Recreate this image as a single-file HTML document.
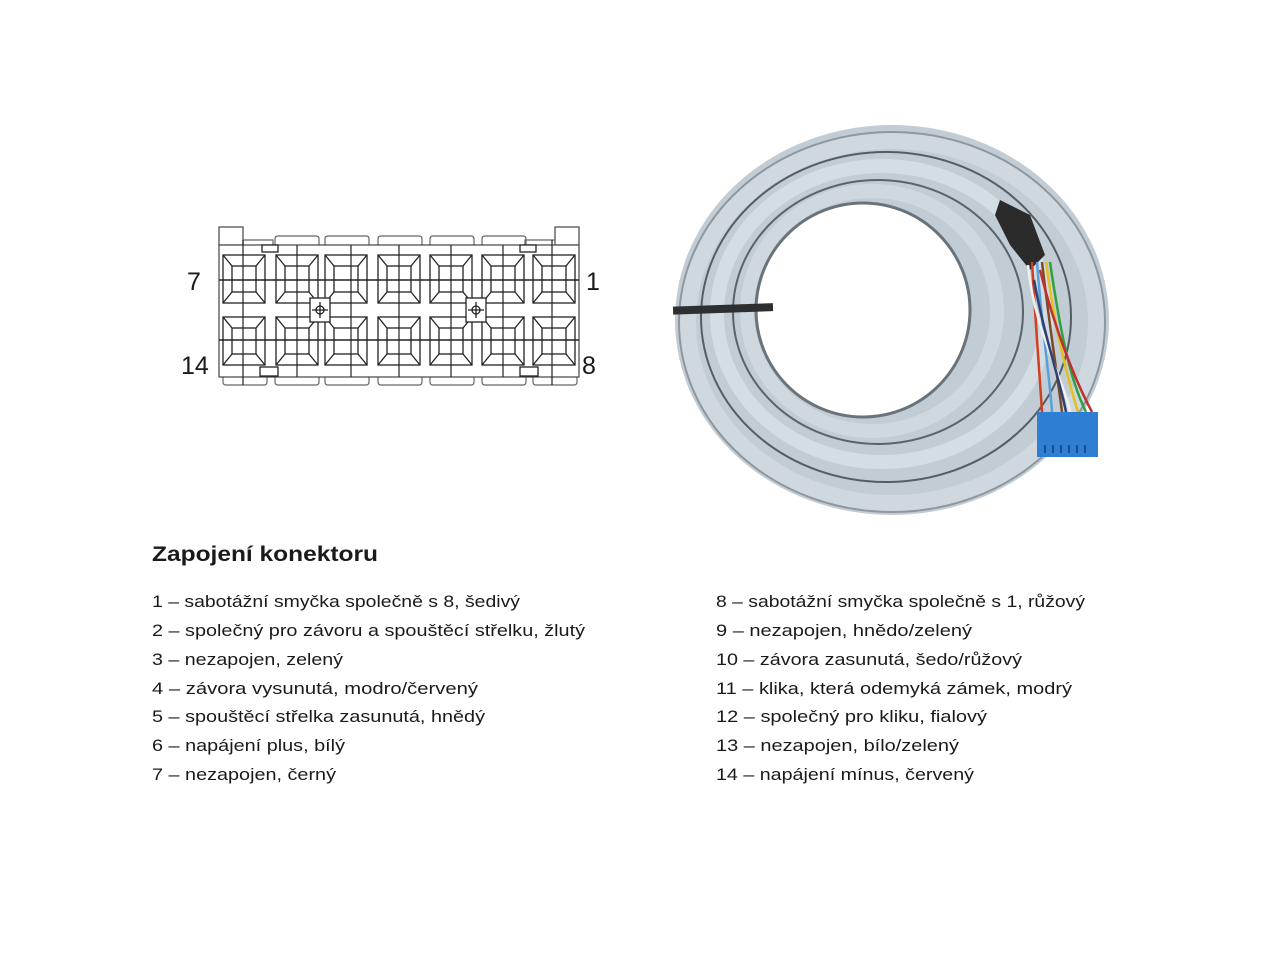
<!DOCTYPE html>
<html><head><meta charset="utf-8"><style>
html,body{margin:0;padding:0;background:#fff;}
svg{display:block;}
text{font-family:"Liberation Sans",sans-serif;fill:#1a1a1a;}
</style></head><body>
<svg width="1280" height="960" viewBox="0 0 1280 960" xmlns="http://www.w3.org/2000/svg">
<defs>
  <g id="cell">
    <rect x="0" y="0" width="42" height="48"/><rect x="9" y="11" width="24" height="26"/>
    <path d="M0 0 L9 11 M42 0 L33 11 M0 48 L9 37 M42 48 L33 37"/>
  </g>
</defs>
<g stroke="#444" fill="none" stroke-width="1.2">
  <rect x="219" y="227" width="24" height="18" fill="#fff"/>
  <rect x="555" y="227" width="24" height="18" fill="#fff"/>
  <g stroke="#666">
    <path d="M275 245 v-6 q0-3 3-3 h38 q3 0 3 3 v6"/>
    <path d="M325 245 v-6 q0-3 3-3 h38 q3 0 3 3 v6"/>
    <path d="M378 245 v-6 q0-3 3-3 h38 q3 0 3 3 v6"/>
    <path d="M430 245 v-6 q0-3 3-3 h38 q3 0 3 3 v6"/>
    <path d="M482 245 v-6 q0-3 3-3 h38 q3 0 3 3 v6"/>
    <path d="M243 245 v-5 h30 v5"/><path d="M525 245 v-5 h30 v5"/>
    <path d="M223 377 v5 q0 3 3 3 h38 q3 0 3-3 v-5"/>
    <path d="M275 377 v5 q0 3 3 3 h38 q3 0 3-3 v-5"/>
    <path d="M325 377 v5 q0 3 3 3 h38 q3 0 3-3 v-5"/>
    <path d="M378 377 v5 q0 3 3 3 h38 q3 0 3-3 v-5"/>
    <path d="M430 377 v5 q0 3 3 3 h38 q3 0 3-3 v-5"/>
    <path d="M482 377 v5 q0 3 3 3 h38 q3 0 3-3 v-5"/>
    <path d="M533 377 v5 q0 3 3 3 h38 q3 0 3-3 v-5"/>
  </g>
  <rect x="219" y="245" width="360" height="132" fill="#fff"/>
</g>
<g stroke="#222" fill="none" stroke-width="1.3">
  <use href="#cell" x="223" y="255"/><use href="#cell" x="276" y="255"/><use href="#cell" x="325" y="255"/>
  <use href="#cell" x="378" y="255"/><use href="#cell" x="430" y="255"/><use href="#cell" x="482" y="255"/>
  <use href="#cell" x="533" y="255"/>
  <use href="#cell" x="223" y="317"/><use href="#cell" x="276" y="317"/><use href="#cell" x="325" y="317"/>
  <use href="#cell" x="378" y="317"/><use href="#cell" x="430" y="317"/><use href="#cell" x="482" y="317"/>
  <use href="#cell" x="533" y="317"/>
  <path d="M219 280 H579 M219 340 H579" stroke-width="1.5"/>
  <path d="M243 240 V385 M297 245 V377 M351 245 V377 M399 245 V377 M451 245 V377 M503 245 V377 M552 240 V385" stroke-width="1.2"/>
  <rect x="310" y="298" width="20" height="24" fill="#fff"/>
  <rect x="466" y="298" width="20" height="24" fill="#fff"/>
  <circle cx="320" cy="310" r="4"/><path d="M320 302 V318 M312 310 H328"/>
  <circle cx="476" cy="310" r="4"/><path d="M476 302 V318 M468 310 H484"/>
  <rect x="262" y="245" width="16" height="7" fill="#fff"/>
  <rect x="520" y="245" width="16" height="7" fill="#fff"/>
  <rect x="260" y="367" width="18" height="9" fill="#fff"/>
  <rect x="520" y="367" width="18" height="9" fill="#fff"/>
</g>
<text x="187" y="290" font-size="25">7</text>
<text x="586" y="290" font-size="25">1</text>
<text x="181" y="374" font-size="25">14</text>
<text x="582" y="374" font-size="25">8</text>

<!-- cable coil -->
<path fill-rule="evenodd" fill="#c2ccd4" d="M675 320 a217 195 0 1 0 434 0 a217 195 0 1 0 -434 0 Z M757 310 a106 106 0 1 0 212 0 a106 106 0 1 0 -212 0 Z"/>
<g fill="none">
  <ellipse cx="892" cy="322" rx="205" ry="182" stroke="#cfd8df" stroke-width="18"/>
  <ellipse cx="892" cy="322" rx="213" ry="190" stroke="#8e979e" stroke-width="2"/>
  <ellipse cx="886" cy="317" rx="185" ry="165" stroke="#555d64" stroke-width="2"/>
  <ellipse cx="882" cy="314" rx="165" ry="148" stroke="#d4dde3" stroke-width="14"/>
  <ellipse cx="878" cy="312" rx="145" ry="132" stroke="#5a636b" stroke-width="2"/>
  <ellipse cx="872" cy="311" rx="125" ry="120" stroke="#cfd8de" stroke-width="14"/>
  <ellipse cx="863" cy="310" rx="107" ry="107" stroke="#6a737a" stroke-width="3"/>
</g>
<path d="M1000 200 L1030 215 L1045 255 L1030 270 L1010 245 L995 215 Z" fill="#2b2b2b"/>
<rect x="673" y="305" width="100" height="8" fill="#2d2f31" transform="rotate(-2 720 309)"/>
<g stroke-width="2.5" fill="none">
  <path d="M1032 262 C1036 330 1040 380 1042 412" stroke="#d04020"/>
  <path d="M1037 262 C1042 330 1050 380 1052 412" stroke="#5aa0d8"/>
  <path d="M1042 262 C1050 330 1058 380 1062 412" stroke="#7a4a2a"/>
  <path d="M1028 265 C1034 330 1064 380 1070 412" stroke="#f0f0f0"/>
  <path d="M1046 262 C1055 330 1068 380 1078 412" stroke="#e2c020"/>
  <path d="M1050 262 C1060 330 1070 380 1086 412" stroke="#30a040"/>
  <path d="M1040 270 C1055 330 1075 380 1092 412" stroke="#c03030"/>
  <path d="M1034 280 C1045 340 1060 380 1066 412" stroke="#304070"/>
</g>
<rect x="1037" y="412" width="61" height="45" fill="#2e7fd4"/>
<g stroke="#1b4f8f" stroke-width="2"><path d="M1045 445 v8 M1053 445 v8 M1061 445 v8 M1069 445 v8 M1077 445 v8 M1085 445 v8"/></g>

<text x="152" y="561" font-size="21" font-weight="bold" textLength="226" lengthAdjust="spacingAndGlyphs">Zapojení konektoru</text>
<g font-size="17">
<text x="152" y="607" textLength="368" lengthAdjust="spacingAndGlyphs">1 – sabotážní smyčka společně s 8, šedivý</text>
<text x="152" y="636" textLength="433" lengthAdjust="spacingAndGlyphs">2 – společný pro závoru a spouštěcí střelku, žlutý</text>
<text x="152" y="665" textLength="191" lengthAdjust="spacingAndGlyphs">3 – nezapojen, zelený</text>
<text x="152" y="694" textLength="326" lengthAdjust="spacingAndGlyphs">4 – závora vysunutá, modro/červený</text>
<text x="152" y="722" textLength="333" lengthAdjust="spacingAndGlyphs">5 – spouštěcí střelka zasunutá, hnědý</text>
<text x="152" y="751" textLength="193" lengthAdjust="spacingAndGlyphs">6 – napájení plus, bílý</text>
<text x="152" y="780" textLength="184" lengthAdjust="spacingAndGlyphs">7 – nezapojen, černý</text>
<text x="716" y="607" textLength="369" lengthAdjust="spacingAndGlyphs">8 – sabotážní smyčka společně s 1, růžový</text>
<text x="716" y="636" textLength="256" lengthAdjust="spacingAndGlyphs">9 – nezapojen, hnědo/zelený</text>
<text x="716" y="665" textLength="306" lengthAdjust="spacingAndGlyphs">10 – závora zasunutá, šedo/růžový</text>
<text x="716" y="694" textLength="356" lengthAdjust="spacingAndGlyphs">11 – klika, která odemyká zámek, modrý</text>
<text x="716" y="722" textLength="271" lengthAdjust="spacingAndGlyphs">12 – společný pro kliku, fialový</text>
<text x="716" y="751" textLength="243" lengthAdjust="spacingAndGlyphs">13 – nezapojen, bílo/zelený</text>
<text x="716" y="780" textLength="258" lengthAdjust="spacingAndGlyphs">14 – napájení mínus, červený</text>
</g>
</svg>
</body></html>
